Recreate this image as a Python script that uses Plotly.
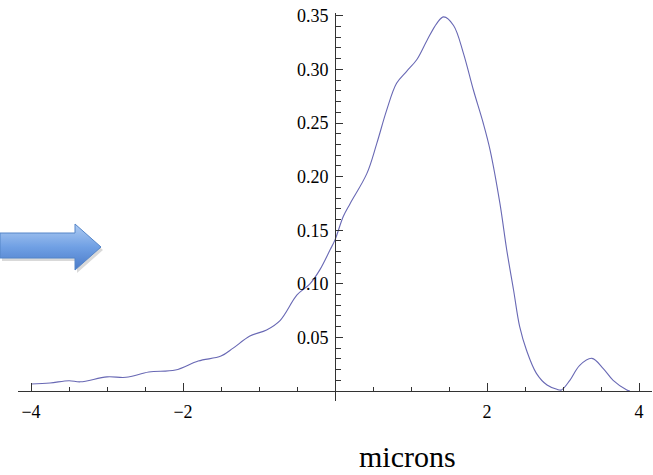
import plotly.graph_objects as go

# ---- data ----
x_microns = [-4.0, -3.75, -3.5, -3.35, -3.0, -2.75, -2.45, -2.1, -1.8, -1.5, -1.34, -1.12,
             -0.9, -0.72, -0.5, -0.33, -0.2, -0.066, 0.0, 0.11, 0.2, 0.42, 0.55, 0.68,
             0.81, 0.94, 1.075, 1.21, 1.34, 1.43, 1.56, 1.69, 1.82, 1.95, 2.04, 2.17,
             2.26, 2.35, 2.43, 2.52, 2.65, 2.79, 2.92, 2.98, 3.09, 3.22, 3.38, 3.53,
             3.66, 3.84, 3.88]
density = [0.0065, 0.0075, 0.0096, 0.0086, 0.0132, 0.0128, 0.0177, 0.0196, 0.028, 0.0326,
           0.040, 0.0513, 0.057, 0.066, 0.0896, 0.100, 0.113, 0.1315, 0.141, 0.163,
           0.175, 0.203, 0.231, 0.262, 0.287, 0.298, 0.309, 0.327, 0.343, 0.349,
           0.341, 0.315, 0.281, 0.250, 0.225, 0.175, 0.1315, 0.094, 0.060, 0.038,
           0.0165, 0.0056, 0.0016, 0.001, 0.010, 0.024, 0.0305, 0.021, 0.010, 0.001, 0.0]

x_tick_vals = [-4, -2, 2, 4]
x_tick_text = ["\u22124", "\u22122", "2", "4"]
y_tick_vals = [0.05, 0.10, 0.15, 0.20, 0.25, 0.30, 0.35]
y_tick_text = ["0.05", "0.10", "0.15", "0.20", "0.25", "0.30", "0.35"]
x_label = "microns"

# ---- layout geometry ----
W, H = 653, 475
px_left, px_right, px_top, px_bottom = 18, 652, 13, 401
x_range = [-4.171, 4.171]
y_range = [-0.0093, 0.3526]
xdom = [px_left / W, px_right / W]
ydom = [(H - px_bottom) / H, (H - px_top) / H]
yaxis_pos = xdom[0] + (0 - x_range[0]) / (x_range[1] - x_range[0]) * (xdom[1] - xdom[0])
xaxis_pos = ydom[0] + (0 - y_range[0]) / (y_range[1] - y_range[0]) * (ydom[1] - ydom[0])

axis_color = "#333333"
tick_font = dict(family="Liberation Serif, Times New Roman, serif", size=18, color="#000000")

fig = go.Figure()

# decorative arrow (pixel space overlay)
arrow_x = [0, 75, 75, 101, 75, 75, 0, 0]
arrow_y = [233, 233, 224, 247, 270, 258, 258, 233]
fig.add_trace(go.Scatter(
    x=[v + 2 for v in arrow_x], y=[v + 3 for v in arrow_y], xaxis="x2", yaxis="y2",
    mode="lines", fill="toself", fillcolor="rgba(0,0,0,0.15)", line=dict(width=0),
    hoverinfo="skip", showlegend=False))
fig.add_trace(go.Scatter(
    x=arrow_x, y=arrow_y, xaxis="x2", yaxis="y2",
    mode="lines", fill="toself",
    fillgradient=dict(type="vertical",
                      colorscale=[[0, "#4a7ac8"], [0.5, "#70a0e4"], [1, "#aecbf2"]],
                      start=270, stop=224),
    line=dict(width=1, color="#5585c8"),
    hoverinfo="skip", showlegend=False))

fig.add_trace(go.Scatter(
    x=x_microns, y=density, mode="lines",
    line=dict(color="#6868b4", width=1.1, shape="spline", smoothing=1.0),
    showlegend=False, hoverinfo="skip"))

fig.update_layout(
    width=W, height=H,
    margin=dict(l=0, r=0, t=0, b=0, pad=0),
    paper_bgcolor="white", plot_bgcolor="rgba(0,0,0,0)",
    xaxis=dict(
        domain=xdom, range=x_range, anchor="free", position=xaxis_pos,
        showgrid=False, zeroline=False, showline=True, linecolor=axis_color, linewidth=1,
        ticks="inside", ticklen=8, tickwidth=1, tickcolor=axis_color,
        tickmode="array", tickvals=x_tick_vals, ticktext=x_tick_text,
        tickfont=tick_font, ticklabelstandoff=4,
        minor=dict(ticks="inside", ticklen=4, tickwidth=1, tickcolor=axis_color,
                   tickmode="linear", tick0=0, dtick=0.5, showgrid=False),
        automargin=False, fixedrange=True),
    yaxis=dict(
        domain=ydom, range=y_range, anchor="free", position=yaxis_pos,
        showgrid=False, zeroline=False, showline=True, linecolor=axis_color, linewidth=1,
        ticks="inside", ticklen=7, tickwidth=1, tickcolor=axis_color,
        tickmode="array", tickvals=y_tick_vals, ticktext=y_tick_text,
        tickfont=tick_font, ticklabelstandoff=3,
        minor=dict(ticks="inside", ticklen=5, tickwidth=1, tickcolor=axis_color,
                   tickmode="linear", tick0=0, dtick=0.01, showgrid=False),
        automargin=False, fixedrange=True),
    xaxis2=dict(domain=[0, 1], range=[0, W], anchor="y2", visible=False, fixedrange=True),
    yaxis2=dict(domain=[0, 1], range=[H, 0], anchor="x2", visible=False, fixedrange=True),
    annotations=[dict(
        text=x_label, xref="paper", yref="paper",
        x=407 / W, y=(H - 456) / H, xanchor="center", yanchor="middle",
        showarrow=False, borderpad=0,
        font=dict(family="Liberation Serif, Times New Roman, serif", size=30, color="#000000"))],
)

fig.write_html("out.html", config={"displayModeBar": False},
               post_script="document.body.style.margin='0';document.body.style.overflow='hidden';")
